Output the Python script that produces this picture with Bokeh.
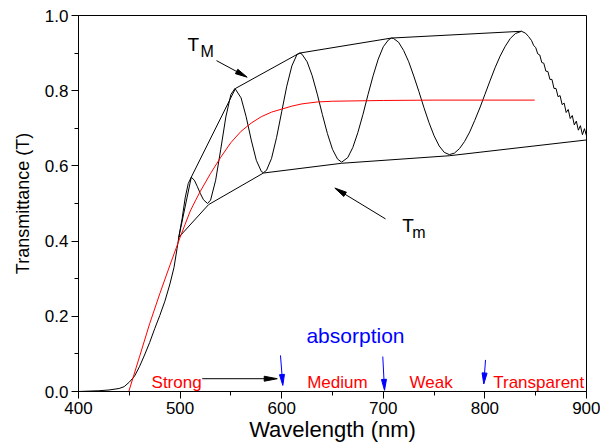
import math
from bokeh.plotting import figure
from bokeh.models import Range1d, FixedTicker, PrintfTickFormatter, Label
from bokeh.embed import file_html
from bokeh.resources import INLINE

# ---- data ----
wl_T = [400, 410, 420, 430, 440, 445, 450, 455, 460, 465, 470, 475, 480, 485, 490, 494, 497, 499,
        502, 505, 508, 511, 514, 517, 520, 523, 527, 530, 535, 540, 545, 550, 554, 560, 565, 570,
        575, 580, 582, 585, 590, 595, 600, 605, 610, 615, 618, 620, 625, 630, 635, 640, 645, 650,
        655, 659, 665, 670, 675, 680, 685, 690, 695, 700, 705, 708, 710, 715, 720, 725, 730, 735,
        740, 745, 750, 755, 760, 765, 770, 775, 780, 785, 790, 795, 800, 805, 810, 815, 820, 825,
        830, 836, 840, 843, 846, 848, 850, 852, 854, 856, 858, 860, 862, 864, 866, 868, 870, 872,
        874, 876, 878, 880, 882, 884, 886, 888, 890, 892, 894, 896, 898, 900]
T = [0.000, 0.001, 0.002, 0.004, 0.008, 0.013, 0.025, 0.040, 0.066, 0.097, 0.130, 0.167, 0.202,
     0.240, 0.286, 0.330, 0.380, 0.415, 0.460, 0.515, 0.553, 0.570, 0.562, 0.545, 0.526, 0.510,
     0.500, 0.509, 0.562, 0.644, 0.730, 0.790, 0.806, 0.781, 0.731, 0.669, 0.615, 0.585, 0.582,
     0.588, 0.620, 0.676, 0.744, 0.812, 0.866, 0.896, 0.900, 0.897, 0.877, 0.840, 0.791, 0.737,
     0.686, 0.644, 0.618, 0.610, 0.622, 0.649, 0.689, 0.737, 0.790, 0.840, 0.884, 0.917, 0.935,
     0.940, 0.939, 0.929, 0.907, 0.877, 0.839, 0.798, 0.755, 0.715, 0.680, 0.653, 0.636, 0.630,
     0.634, 0.646, 0.665, 0.690, 0.721, 0.754, 0.790, 0.826, 0.861, 0.892, 0.918, 0.939, 0.952,
     0.958, 0.953, 0.944, 0.933, 0.920, 0.915, 0.898, 0.895, 0.875, 0.873, 0.852, 0.851, 0.830,
     0.830, 0.806, 0.806, 0.784, 0.787, 0.763, 0.767, 0.742, 0.750, 0.726, 0.734, 0.709, 0.719,
     0.695, 0.707, 0.683, 0.699, 0.680]

wl_TM = [498.7, 511, 554.5, 617.5, 708, 836]
TM = [0.41, 0.57, 0.806, 0.900, 0.940, 0.958]

wl_Tm = [498.7, 528, 582, 659, 765, 900]
Tm = [0.41, 0.497, 0.581, 0.607, 0.627, 0.669]

wl_Ta = [449.5, 460, 470, 480, 490, 500, 505, 510, 515, 520, 530, 540, 550, 560, 570, 580, 590,
         600, 610, 620, 635, 650, 700, 750, 800, 849]
Ta = [0.0, 0.092, 0.180, 0.260, 0.336, 0.410, 0.445, 0.480, 0.507, 0.533, 0.580, 0.623, 0.662,
      0.692, 0.714, 0.731, 0.743, 0.751, 0.759, 0.765, 0.770, 0.772, 0.774, 0.775, 0.775, 0.775]

x_ticks = [400, 500, 600, 700, 800, 900]
x_minor = [450, 550, 650, 750, 850]
y_ticks = [0.0, 0.2, 0.4, 0.6, 0.8, 1.0]
y_minor = [0.1, 0.3, 0.5, 0.7, 0.9]

region_labels = ["Strong", "Medium", "Weak", "Transparent"]
region_x = [471.9, 625.1, 725.8, 808.2]
boundary_x = [600, 700, 800]

FONT = "Liberation Sans"
W, H = 600, 447
BL, BR, BT, BB = 78, 14, 15, 56
X0, X1, Y0, Y1 = 400, 900, 0, 1

p = figure(width=W, height=H, output_backend="svg", toolbar_location=None,
           x_range=Range1d(X0, X1), y_range=Range1d(Y0, Y1),
           min_border_left=BL, min_border_right=BR, min_border_top=BT, min_border_bottom=BB)
p.grid.visible = False
p.outline_line_color = "black"
p.outline_line_width = 1
p.background_fill_color = "white"
p.border_fill_color = "white"

for ax in (p.xaxis[0], p.yaxis[0]):
    ax.major_tick_out = 7
    ax.major_tick_in = 0
    ax.minor_tick_out = 4
    ax.minor_tick_in = 0
    ax.axis_line_color = "black"
    ax.major_tick_line_color = "black"
    ax.minor_tick_line_color = "black"
    ax.major_label_text_font = FONT
    ax.major_label_text_font_size = "17px"
    ax.major_label_text_color = "black"
    ax.axis_label_text_font = FONT
    ax.axis_label_text_font_style = "normal"
    ax.axis_label_text_color = "black"
    ax.major_label_standoff = 3

p.xaxis.ticker = FixedTicker(ticks=x_ticks, minor_ticks=x_minor)
p.yaxis.ticker = FixedTicker(ticks=y_ticks, minor_ticks=y_minor)
p.xaxis.formatter = PrintfTickFormatter(format="%d")
p.yaxis.formatter = PrintfTickFormatter(format="%.1f")
p.xaxis.axis_label = "Wavelength (nm)"
p.yaxis.axis_label = "Transmittance (T)"
p.xaxis.axis_label_text_font_size = "22px"
p.yaxis.axis_label_text_font_size = "18px"
p.xaxis.axis_label_standoff = 0
p.yaxis.axis_label_standoff = 9

p.line(wl_T, T, line_color="black", line_width=1)
p.line(wl_TM, TM, line_color="black", line_width=1)
p.line(wl_Tm, Tm, line_color="black", line_width=1)
p.line(wl_Ta, Ta, line_color="red", line_width=1)

# pixel scale of the frame, for slender arrow heads
sx = (W - BL - BR) / (X1 - X0)
sy = (H - BT - BB) / (Y1 - Y0)


def arrow(xs, ys, xe, ye, color, length=12, width=5):
    dxp, dyp = (xe - xs) * sx, (ye - ys) * sy
    n = math.hypot(dxp, dyp)
    ux, uy = dxp / n, dyp / n
    bx, by = -ux * length, -uy * length
    px_, py_ = -uy * width / 2, ux * width / 2
    hx = [xe, xe + (bx + px_) / sx, xe + (bx - px_) / sx]
    hy = [ye, ye + (by + py_) / sy, ye + (by - py_) / sy]
    p.segment(x0=[xs], y0=[ys], x1=[xe - ux * (length - 2) / sx], y1=[ye - uy * (length - 2) / sy],
              line_color=color, line_width=1)
    p.patch(hx, hy, fill_color=color, line_color=color, line_width=1)


# envelope annotations
p.add_layout(Label(x=507.3, y=0.923, text="T", text_font=FONT, text_font_size="19px",
                   text_color="black", text_baseline="alphabetic"))
p.add_layout(Label(x=520.1, y=0.905, text="M", text_font=FONT, text_font_size="16px",
                   text_color="black", text_baseline="alphabetic"))
arrow(535.8, 0.880, 566, 0.836, "black")

p.add_layout(Label(x=718.6, y=0.441, text="T", text_font=FONT, text_font_size="19px",
                   text_color="black", text_baseline="alphabetic"))
p.add_layout(Label(x=728.4, y=0.423, text="m", text_font=FONT, text_font_size="16px",
                   text_color="black", text_baseline="alphabetic"))
arrow(702.2, 0.459, 652.3, 0.541, "black")

# absorption regions
p.add_layout(Label(x=672.6, y=0.149, text="absorption", text_font=FONT, text_font_size="21px",
                   text_color="blue", text_align="center", text_baseline="alphabetic"))
for name, xr in zip(region_labels, region_x):
    p.add_layout(Label(x=xr, y=0.024, text=name, text_font=FONT, text_font_size="17px",
                       text_color="red", text_baseline="alphabetic"))

arrow(521.8, 0.034, 595.6, 0.034, "black", length=13, width=5)

blue_start = [(598.8, 0.096), (699.5, 0.093), (800.6, 0.084)]
blue_end_y = [0.016, 0.003, 0.020]
blue_end_dx = [1.1, 1.2, -1.1]
for (xs, ys), bx, ye, dx in zip(blue_start, boundary_x, blue_end_y, blue_end_dx):
    arrow(xs, ys, bx + dx, ye, "blue", length=11, width=5)

open("out.html", "w").write(file_html(p, INLINE))
